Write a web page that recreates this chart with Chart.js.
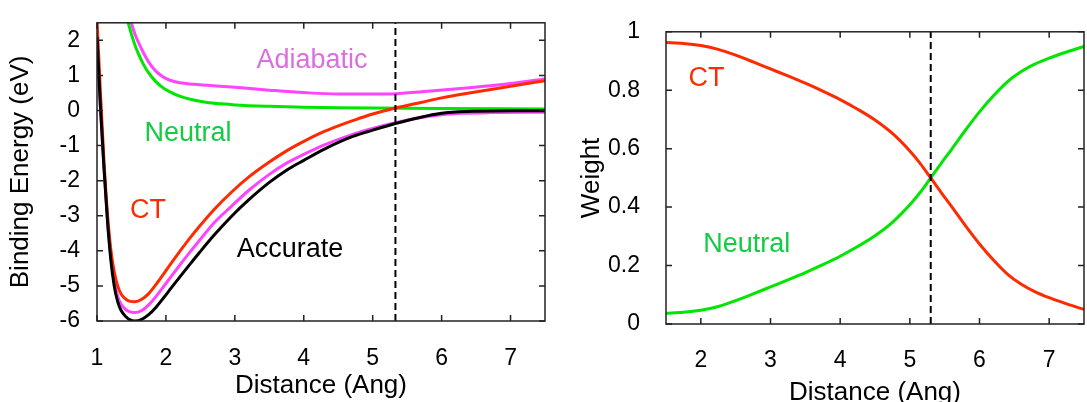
<!DOCTYPE html>
<html>
<head>
<meta charset="utf-8">
<script src="https://cdn.jsdelivr.net/npm/chart.js@4/dist/chart.umd.min.js"></script>
<style>
  body { margin: 0; background: #fff; overflow: hidden; }
  #energy_chart { position: absolute; left: 0; top: 0; }
  #weight_chart { position: absolute; left: 560px; top: 0; }
</style>
</head>
<body>
<canvas id="energy_chart" width="560" height="402"></canvas>
<canvas id="weight_chart" width="527" height="402"></canvas>
<script>
// left panel: binding energy curves (eV) vs distance (Ang)
const accX = [1.0, 1.05, 1.1, 1.15, 1.2, 1.25, 1.3, 1.35, 1.42, 1.48, 1.55, 1.65, 1.75, 1.86, 1.97, 2.08, 2.2, 2.35, 2.49, 2.7, 2.95, 3.2, 3.5, 3.75, 4.0, 4.3, 4.71, 5.0, 5.33, 5.7, 6.0, 6.2, 6.5, 7.0, 7.5];
const accY = [2.1, 0.1, -1.6, -3.1, -4.25, -5.0, -5.45, -5.7, -5.88, -5.97, -6.0, -5.95, -5.82, -5.6, -5.33, -5.05, -4.75, -4.38, -4.04, -3.55, -3.02, -2.55, -2.05, -1.7, -1.42, -1.1, -0.74, -0.56, -0.37, -0.19, -0.08, -0.04, -0.02, -0.01, -0.01];

const ctX = [1.0, 1.05, 1.1, 1.15, 1.2, 1.25, 1.3, 1.35, 1.42, 1.48, 1.55, 1.65, 1.75, 1.86, 1.97, 2.08, 2.2, 2.35, 2.5, 2.7, 2.95, 3.2, 3.5, 3.75, 4.0, 4.25, 4.5, 4.71, 5.0, 5.33, 5.7, 6.0, 6.4, 7.0, 7.5];
const ctY = [2.6, 0.5, -1.4, -2.9, -3.95, -4.6, -5.0, -5.23, -5.38, -5.44, -5.45, -5.38, -5.22, -4.95, -4.65, -4.34, -4.02, -3.63, -3.27, -2.82, -2.33, -1.9, -1.47, -1.15, -0.88, -0.64, -0.44, -0.29, -0.1, 0.07, 0.23, 0.36, 0.5, 0.69, 0.85];

const lowX = [1.0, 1.05, 1.1, 1.15, 1.2, 1.25, 1.3, 1.35, 1.42, 1.48, 1.55, 1.65, 1.75, 1.86, 1.97, 2.08, 2.2, 2.35, 2.5, 2.7, 2.95, 3.2, 3.5, 3.75, 4.0, 4.3, 4.71, 5.0, 5.33, 5.7, 6.0, 6.3, 6.7, 7.5];
const lowY = [2.1, 0.05, -1.6, -3.05, -4.15, -4.85, -5.3, -5.52, -5.68, -5.74, -5.76, -5.7, -5.54, -5.29, -5.01, -4.72, -4.41, -4.03, -3.67, -3.2, -2.73, -2.28, -1.82, -1.5, -1.25, -0.98, -0.68, -0.51, -0.35, -0.2, -0.12, -0.08, -0.06, -0.05];

const upX = [1.47, 1.5, 1.55, 1.6, 1.67, 1.75, 1.85, 1.95, 2.05, 2.2, 2.4, 2.6, 3.0, 3.5, 4.0, 4.5, 5.0, 5.33, 5.8, 6.4, 7.0, 7.5];
const upY = [2.7, 2.48, 2.18, 1.95, 1.66, 1.38, 1.13, 0.97, 0.87, 0.79, 0.75, 0.72, 0.66, 0.58, 0.51, 0.47, 0.47, 0.48, 0.55, 0.65, 0.77, 0.9];

const neuX = [1.42, 1.46, 1.5, 1.55, 1.6, 1.67, 1.75, 1.85, 1.95, 2.05, 2.2, 2.4, 2.6, 2.8, 3.0, 3.5, 4.0, 4.5, 5.0, 6.0, 7.5];
const neuY = [2.75, 2.45, 2.17, 1.87, 1.62, 1.33, 1.07, 0.83, 0.66, 0.54, 0.41, 0.3, 0.23, 0.19, 0.16, 0.12, 0.095, 0.08, 0.07, 0.055, 0.045];

const energyCross = 5.33;
const energyXTicks = [1, 2, 3, 4, 5, 6, 7];
const energyYTicks = [-6, -5, -4, -3, -2, -1, 0, 1, 2];

// right panel: weights
const wX = [1.5, 1.75, 2.0, 2.25, 2.5, 2.75, 3.0, 3.25, 3.5, 3.75, 4.0, 4.25, 4.5, 4.75, 5.0, 5.15, 5.3, 5.45, 5.6, 5.8, 6.0, 6.2, 6.4, 6.6, 6.8, 7.0, 7.25, 7.5];
const ctW = [0.963, 0.96, 0.953, 0.94, 0.92, 0.897, 0.873, 0.849, 0.824, 0.797, 0.768, 0.735, 0.698, 0.652, 0.592, 0.549, 0.5, 0.45, 0.402, 0.336, 0.274, 0.219, 0.171, 0.136, 0.11, 0.09, 0.069, 0.05];
const neuW = [0.037, 0.04, 0.047, 0.06, 0.08, 0.103, 0.127, 0.151, 0.176, 0.203, 0.232, 0.265, 0.302, 0.348, 0.408, 0.451, 0.5, 0.55, 0.598, 0.664, 0.726, 0.781, 0.829, 0.864, 0.89, 0.91, 0.931, 0.95];

const weightCross = 5.3;
const weightXTicks = [2, 3, 4, 5, 6, 7];
const weightYTicks = [0, 0.2, 0.4, 0.6, 0.8, 1];

const FONT = "'Liberation Sans', Arial, Helvetica, sans-serif";
const RED = '#ff2a00';
const GREEN = '#00e600';
const MAGENTA = '#ff44ff';

window.onload = function(){
  energy_draw();
  weight_draw();
}

function pts(xs, ys) {
  return xs.map((x, i) => ({x: x, y: ys[i]}));
}

// frame with inward ticks on all four sides + text labels in data coords
function framePlugin(labels) {
  return {
    id: 'frame',
    afterDatasetsDraw(chart) {
      const {ctx, chartArea: a, scales} = chart;
      ctx.save();
      ctx.strokeStyle = '#222';
      ctx.lineWidth = 1.5;
      ctx.beginPath();
      scales.x.ticks.forEach(t => {
        const px = scales.x.getPixelForValue(t.value);
        ctx.moveTo(px, a.bottom); ctx.lineTo(px, a.bottom - 6);
        ctx.moveTo(px, a.top); ctx.lineTo(px, a.top + 6);
      });
      scales.y.ticks.forEach(t => {
        const py = scales.y.getPixelForValue(t.value);
        ctx.moveTo(a.left, py); ctx.lineTo(a.left + 6, py);
        ctx.moveTo(a.right, py); ctx.lineTo(a.right - 6, py);
      });
      ctx.stroke();
      ctx.strokeRect(a.left, a.top, a.width, a.height);

      ctx.font = '27px ' + FONT;
      ctx.textAlign = 'center';
      ctx.textBaseline = 'alphabetic';
      labels.forEach(l => {
        ctx.fillStyle = l.color;
        ctx.fillText(l.text, scales.x.getPixelForValue(l.x), scales.y.getPixelForValue(l.y));
      });
      ctx.restore();
    }
  };
}

function baseOptions(o) {
  return {
    responsive: false,
    animation: false,
    layout: { padding: o.padding },
    elements: {
      point: { radius: 0 },
      line: { borderWidth: 3, cubicInterpolationMode: 'monotone' }
    },
    plugins: { legend: { display: false }, tooltip: { enabled: false } },
    scales: {
      x: {
        type: 'linear',
        min: o.xmin, max: o.xmax,
        grid: { display: false },
        border: { display: false },
        afterBuildTicks: s => { s.ticks = o.xticks.map(v => ({value: v})); },
        ticks: { padding: o.xpad, color: '#000', font: { family: FONT, size: 23 }, callback: v => String(v) },
        title: { display: true, text: 'Distance (Ang)', color: '#000', font: { family: FONT, size: 26, lineHeight: o.xtitleLH }, padding: { top: 0, bottom: o.xtitlePad } },
        afterFit: s => { s.height = o.xheight; }
      },
      y: {
        min: o.ymin, max: o.ymax,
        grid: { display: false },
        border: { display: false },
        afterBuildTicks: s => { s.ticks = o.yticks.map(v => ({value: v})); },
        ticks: { padding: o.ypad, color: '#000', font: { family: FONT, size: 23 }, callback: v => String(v) },
        title: { display: true, text: o.ytitle, color: '#000', font: { family: FONT, size: 26, lineHeight: 1 }, padding: { top: o.ytitlePad, bottom: 0 } },
        afterFit: s => { s.width = o.ywidth; }
      }
    }
  };
}

function dashed(x, y0, y1) {
  return {
    data: [{x: x, y: y0}, {x: x, y: y1}],
    borderColor: '#000',
    borderWidth: 2,
    borderDash: [7, 4],
    cubicInterpolationMode: 'default',
    tension: 0
  };
}

// 結合エネルギー
function energy_draw() {
  let context = document.querySelector('#energy_chart').getContext('2d');
  new Chart(context, {
    type: 'line',
    data: {
      datasets: [
        dashed(energyCross, -6, 2.5),
        { data: pts(accX, accY), borderColor: '#000' },
        { data: pts(ctX, ctY), borderColor: RED },
        { data: pts(lowX, lowY), borderColor: MAGENTA },
        { data: pts(neuX, neuY), borderColor: GREEN },
        { data: pts(upX, upY), borderColor: MAGENTA }
      ]
    },
    options: baseOptions({
      padding: { top: 15, right: 15, left: 0, bottom: 0 },
      xmin: 1, xmax: 7.5, ymin: -6, ymax: 2.5,
      xticks: energyXTicks, yticks: energyYTicks,
      xpad: 16, ypad: 9, xheight: 81, ywidth: 97,
      xtitleLH: 1, xtitlePad: 3, ytitlePad: 8,
      ytitle: 'Binding Energy (eV)'
    }),
    plugins: [framePlugin([
      { text: 'Adiabatic', x: 4.12, y: 1.21, color: '#dd6edd' },
      { text: 'Neutral', x: 2.32, y: -0.86, color: '#11cc44' },
      { text: 'CT', x: 1.74, y: -3.06, color: RED },
      { text: 'Accurate', x: 3.8, y: -4.18, color: '#000' }
    ])]
  });
}

// 重み
function weight_draw() {
  let context = document.querySelector('#weight_chart').getContext('2d');
  new Chart(context, {
    type: 'line',
    data: {
      datasets: [
        dashed(weightCross, 0, 1),
        { data: pts(wX, ctW), borderColor: RED },
        { data: pts(wX, neuW), borderColor: GREEN }
      ]
    },
    options: baseOptions({
      padding: { top: 16, right: 3, left: 0, bottom: 0 },
      xmin: 1.5, xmax: 7.5, ymin: 0, ymax: 1,
      xticks: weightXTicks, yticks: weightYTicks,
      xpad: 15, ypad: 18, xheight: 78, ywidth: 106,
      xtitleLH: 0.7, xtitlePad: 0, ytitlePad: 19,
      ytitle: 'Weight'
    }),
    plugins: [framePlugin([
      { text: 'CT', x: 2.08, y: 0.816, color: RED },
      { text: 'Neutral', x: 2.66, y: 0.246, color: '#11cc44' }
    ])]
  });
}
</script>
</body>
</html>
